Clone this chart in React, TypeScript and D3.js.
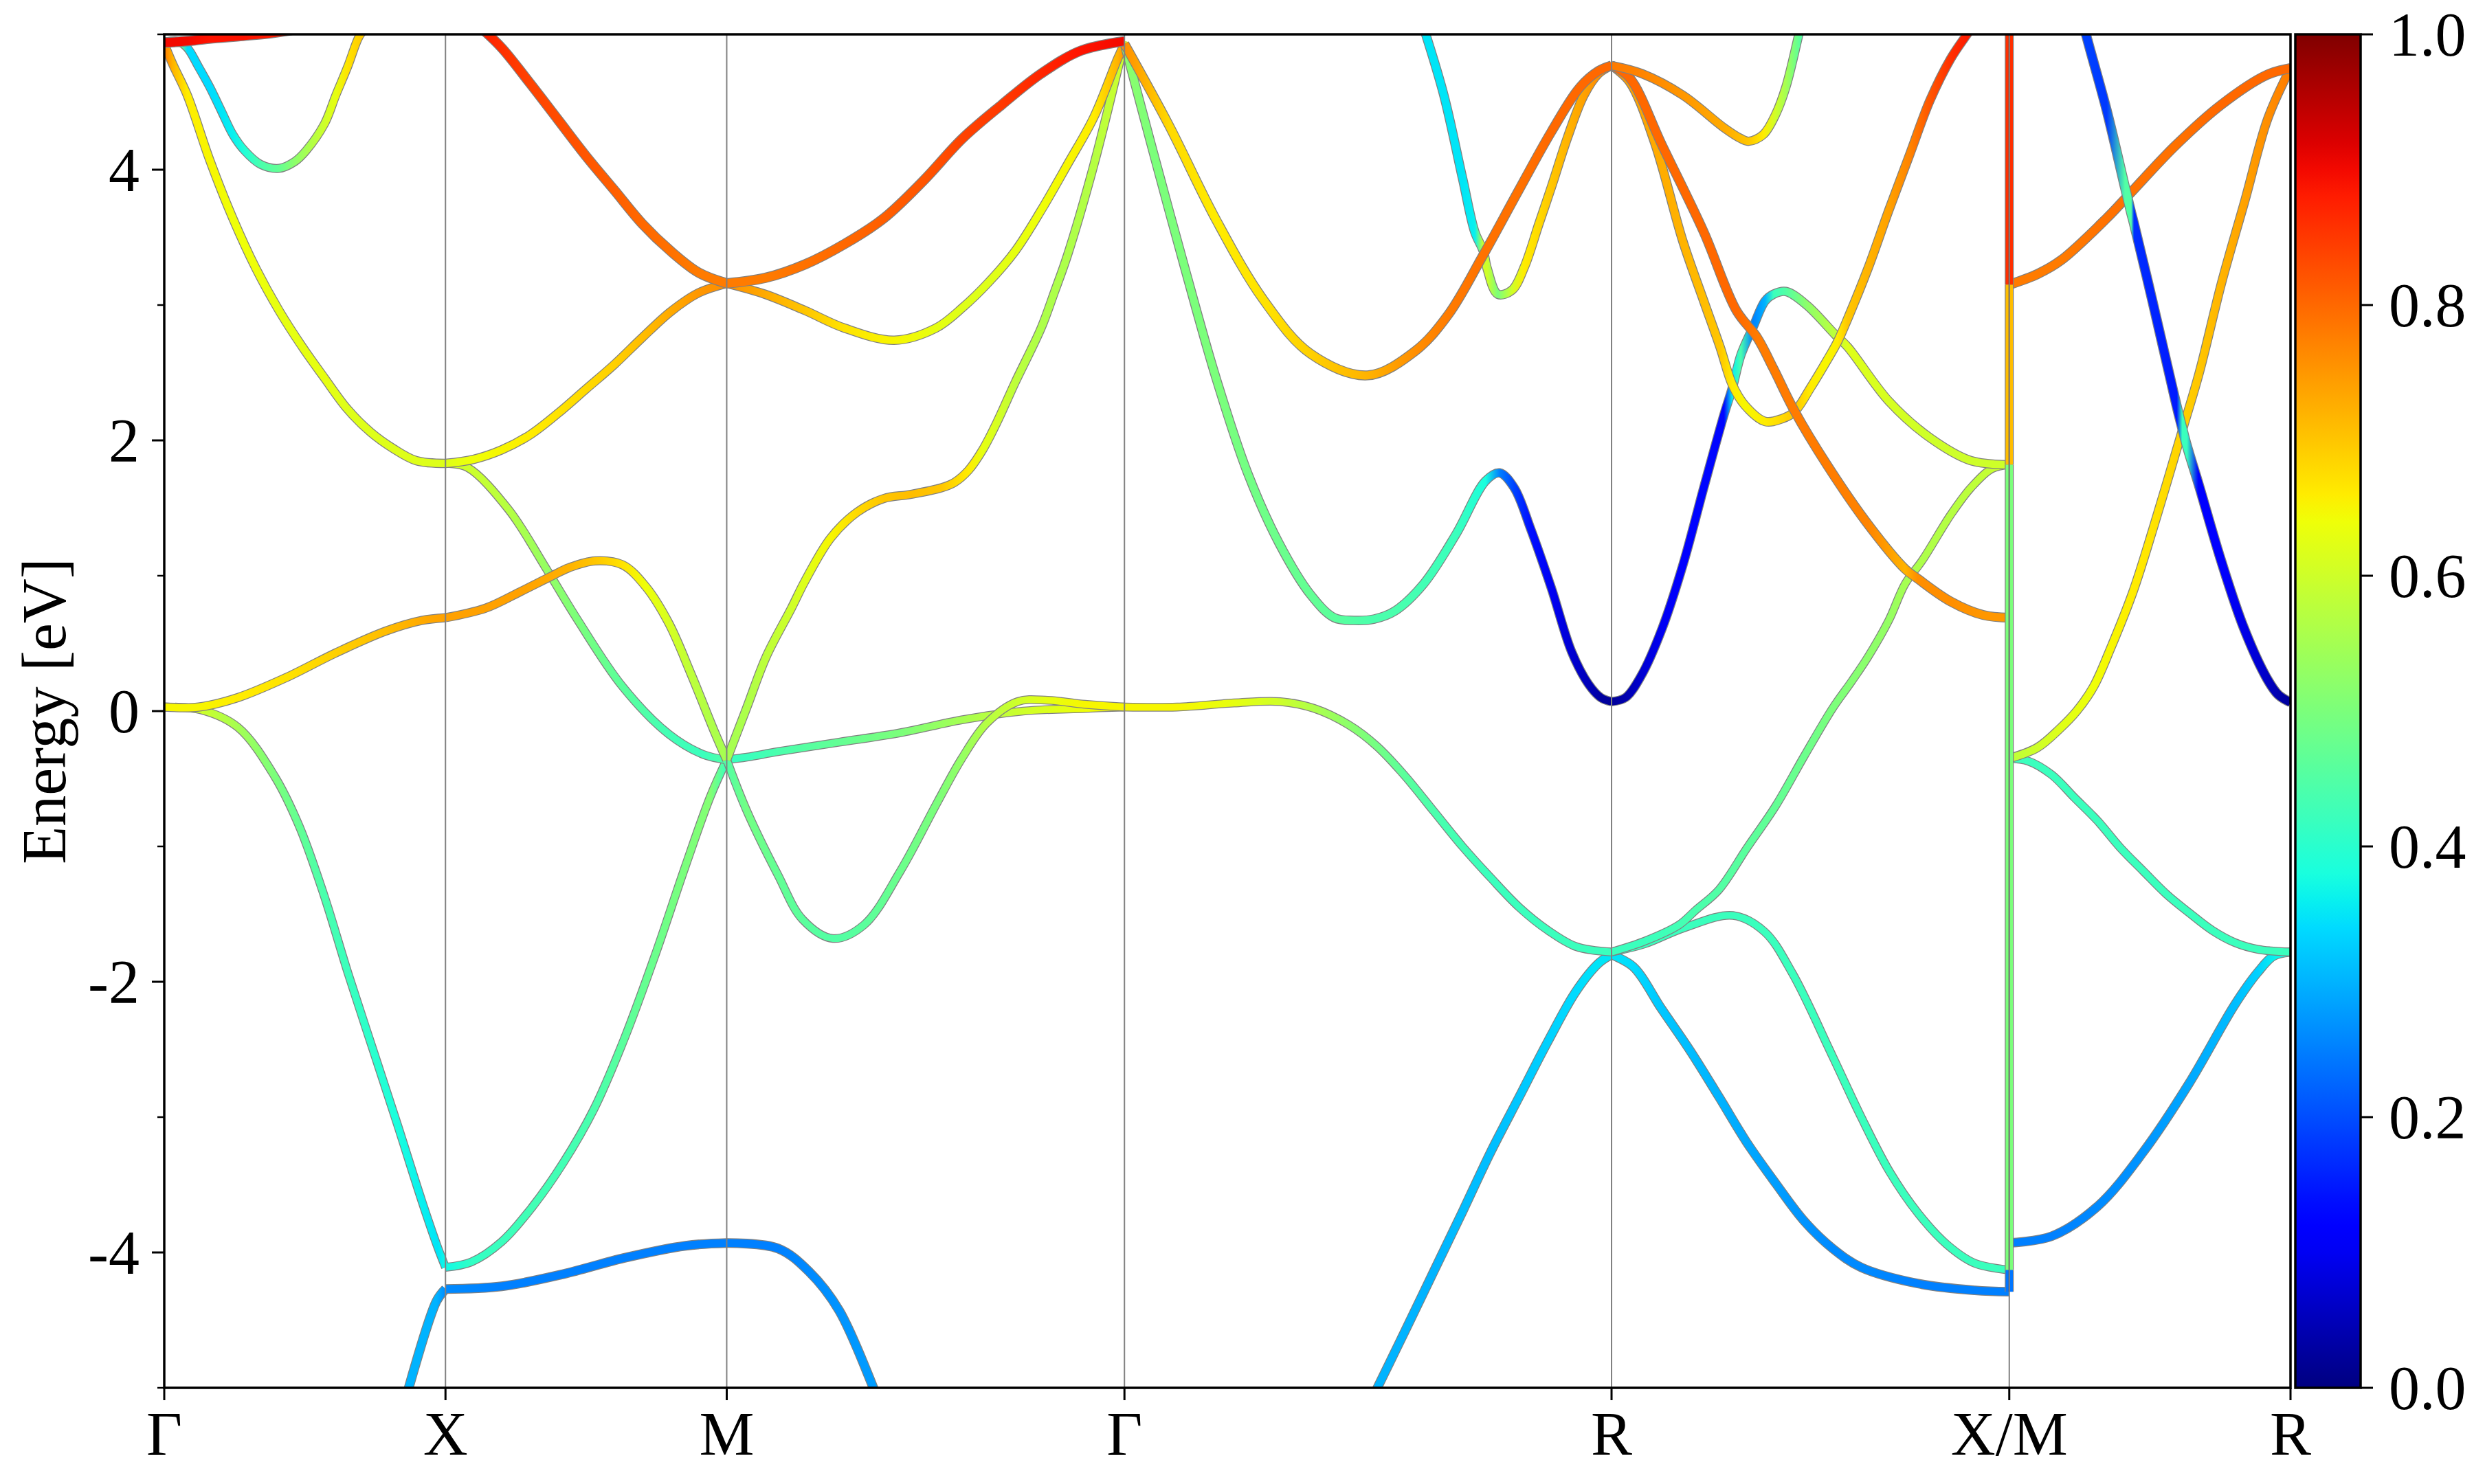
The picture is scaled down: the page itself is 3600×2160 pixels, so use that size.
import * as d3 from 'd3'

// [k, energy (eV), weight]
type Pt = [number, number, number]

const kTicks = [0, 0.5, 1.0, 1.7071, 2.5731, 3.2802, 3.7802]
const kLabels = ['Γ', 'X', 'M', 'Γ', 'R', 'X/M', 'R']
const energyTicks = [-4, -2, 0, 2, 4]
const energyMinorTicks = [-5, -3, -1, 1, 3, 5]
const cbarTicks = [0, 0.2, 0.4, 0.6, 0.8, 1.0]

// Γ-X-M-Γ-R-X part of the path
const bandRedGX: Pt[] = [[0, 4.94, 0.9], [0.04, 4.95, 0.9], [0.08, 4.97, 0.89], [0.14, 4.99, 0.89], [0.19, 5.01, 0.88], [0.25, 5.05, 0.88]]
const bandCyanGX: Pt[] = [[0, 4.94, 0.35], [0.024, 4.95, 0.58], [0.041, 4.9, 0.34], [0.061, 4.76, 0.34], [0.081, 4.61, 0.34], [0.102, 4.43, 0.35], [0.122, 4.26, 0.36], [0.143, 4.14, 0.39], [0.171, 4.04, 0.44], [0.204, 4.01, 0.47], [0.232, 4.06, 0.52], [0.252, 4.14, 0.55], [0.285, 4.34, 0.6], [0.305, 4.55, 0.63], [0.326, 4.76, 0.67], [0.346, 4.98, 0.69], [0.358, 5.05, 0.7]]
const bandRedXM: Pt[] = [[0.56, 5.06, 0.88], [0.6, 4.9, 0.86], [0.65, 4.64, 0.84], [0.7, 4.37, 0.83], [0.75, 4.1, 0.82], [0.8, 3.85, 0.81], [0.85, 3.6, 0.8], [0.9, 3.4, 0.79], [0.95, 3.24, 0.78], [1.0, 3.16, 0.78], [1.068, 3.2, 0.78], [1.139, 3.3, 0.79], [1.209, 3.45, 0.8], [1.279, 3.64, 0.81], [1.35, 3.92, 0.82], [1.419, 4.23, 0.84], [1.489, 4.48, 0.85], [1.559, 4.71, 0.87], [1.63, 4.88, 0.89], [1.7071, 4.95, 0.9]]
const bandYellowD: Pt[] = [[0, 4.93, 0.78], [0.015, 4.78, 0.72], [0.041, 4.55, 0.66], [0.081, 4.07, 0.65], [0.122, 3.64, 0.64], [0.163, 3.27, 0.64], [0.204, 2.96, 0.63], [0.244, 2.7, 0.63], [0.285, 2.46, 0.63], [0.326, 2.23, 0.62], [0.367, 2.06, 0.62], [0.407, 1.94, 0.62], [0.448, 1.85, 0.62], [0.5, 1.83, 0.62], [0.55, 1.86, 0.64], [0.6, 1.93, 0.65], [0.65, 2.04, 0.66], [0.7, 2.2, 0.67], [0.75, 2.38, 0.68], [0.8, 2.56, 0.69], [0.85, 2.76, 0.71], [0.9, 2.95, 0.73], [0.95, 3.09, 0.75], [1.0, 3.16, 0.76], [1.068, 3.08, 0.73], [1.139, 2.96, 0.7], [1.209, 2.83, 0.67], [1.298, 2.74, 0.65], [1.372, 2.83, 0.63], [1.419, 2.98, 0.62], [1.466, 3.17, 0.62], [1.513, 3.4, 0.63], [1.559, 3.7, 0.64], [1.606, 4.04, 0.65], [1.653, 4.39, 0.66], [1.695, 4.82, 0.72], [1.7071, 4.93, 0.76]]
const bandOrangeC: Pt[] = [[0, 0.03, 0.65], [0.061, 0.03, 0.65], [0.131, 0.1, 0.66], [0.218, 0.25, 0.67], [0.305, 0.43, 0.69], [0.393, 0.59, 0.71], [0.458, 0.67, 0.73], [0.5, 0.69, 0.74], [0.571, 0.76, 0.74], [0.632, 0.88, 0.74], [0.685, 0.99, 0.73], [0.72, 1.06, 0.72], [0.766, 1.11, 0.7], [0.815, 1.08, 0.67], [0.856, 0.92, 0.64], [0.897, 0.65, 0.61], [0.937, 0.27, 0.58], [0.978, -0.15, 0.56], [1.0, -0.36, 0.55], [1.036, 0.03, 0.56], [1.07, 0.4, 0.58], [1.115, 0.76, 0.6], [1.139, 0.96, 0.62], [1.185, 1.28, 0.65], [1.232, 1.47, 0.68], [1.279, 1.57, 0.7], [1.326, 1.6, 0.71], [1.382, 1.65, 0.7], [1.405, 1.69, 0.68], [1.43, 1.78, 0.66], [1.455, 1.93, 0.63], [1.48, 2.13, 0.61], [1.513, 2.43, 0.58], [1.559, 2.83, 0.56], [1.583, 3.1, 0.56], [1.606, 3.37, 0.56], [1.653, 4.04, 0.57], [1.7071, 4.95, 0.6]]
const bandGreenE: Pt[] = [[0.5, 1.83, 0.6], [0.539, 1.8, 0.6], [0.612, 1.49, 0.57], [0.681, 1.04, 0.53], [0.734, 0.68, 0.5], [0.815, 0.18, 0.46], [0.897, -0.17, 0.43], [0.958, -0.32, 0.42], [1.0, -0.36, 0.45], [1.036, -0.74, 0.49], [1.091, -1.21, 0.47], [1.135, -1.54, 0.46], [1.189, -1.68, 0.45], [1.244, -1.58, 0.46], [1.309, -1.18, 0.48], [1.375, -0.67, 0.5], [1.418, -0.35, 0.53], [1.462, -0.09, 0.57], [1.517, 0.07, 0.6], [1.571, 0.08, 0.63], [1.637, 0.05, 0.65], [1.7071, 0.03, 0.65], [1.801, 0.03, 0.65], [1.902, 0.06, 0.63], [1.984, 0.07, 0.6], [2.044, 0.02, 0.56], [2.105, -0.1, 0.52], [2.156, -0.26, 0.49], [2.206, -0.48, 0.46], [2.257, -0.74, 0.44], [2.308, -1.0, 0.43], [2.358, -1.23, 0.42], [2.409, -1.45, 0.42], [2.46, -1.62, 0.42], [2.51, -1.74, 0.42], [2.5731, -1.78, 0.42], [2.632, -1.72, 0.42], [2.703, -1.6, 0.42], [2.789, -1.51, 0.42], [2.845, -1.63, 0.42], [2.895, -1.94, 0.42], [2.966, -2.55, 0.42], [3.017, -3.0, 0.42], [3.067, -3.4, 0.42], [3.118, -3.71, 0.42], [3.169, -3.94, 0.42], [3.219, -4.08, 0.42], [3.2802, -4.13, 0.42]]
const bandCyanB: Pt[] = [[0, 0.03, 0.62], [0.065, 0.01, 0.6], [0.131, -0.12, 0.55], [0.196, -0.48, 0.5], [0.24, -0.85, 0.47], [0.284, -1.36, 0.44], [0.327, -1.94, 0.42], [0.371, -2.5, 0.4], [0.415, -3.06, 0.38], [0.458, -3.62, 0.36], [0.486, -3.96, 0.35], [0.5, -4.11, 0.37], [0.546, -4.07, 0.41], [0.6, -3.92, 0.42], [0.655, -3.66, 0.43], [0.709, -3.34, 0.43], [0.764, -2.94, 0.44], [0.818, -2.42, 0.46], [0.873, -1.8, 0.48], [0.927, -1.14, 0.5], [0.971, -0.63, 0.51], [1.0, -0.36, 0.42], [1.036, -0.34, 0.42], [1.091, -0.3, 0.44], [1.2, -0.23, 0.47], [1.309, -0.16, 0.5], [1.418, -0.065, 0.55], [1.527, 0.0, 0.6], [1.637, 0.02, 0.64], [1.7071, 0.03, 0.65]]
const bandBlueA: Pt[] = [[0.428, -5.1, 0.3], [0.484, -4.36, 0.3], [0.5, -4.27, 0.26], [0.6, -4.25, 0.25], [0.709, -4.16, 0.25], [0.818, -4.04, 0.25], [0.927, -3.95, 0.25], [1.0, -3.93, 0.25], [1.091, -3.97, 0.25], [1.146, -4.14, 0.26], [1.2, -4.43, 0.27], [1.27, -5.1, 0.28]]
const bandBlueA2: Pt[] = [[2.145, -5.1, 0.3], [2.206, -4.58, 0.3], [2.257, -4.14, 0.3], [2.308, -3.7, 0.31], [2.358, -3.26, 0.31], [2.409, -2.85, 0.32], [2.46, -2.44, 0.33], [2.51, -2.07, 0.34], [2.551, -1.86, 0.35], [2.5731, -1.8, 0.35], [2.612, -1.89, 0.34], [2.662, -2.2, 0.32], [2.713, -2.51, 0.31], [2.764, -2.85, 0.3], [2.814, -3.19, 0.29], [2.865, -3.49, 0.28], [2.916, -3.77, 0.27], [2.966, -3.97, 0.26], [3.017, -4.11, 0.26], [3.118, -4.23, 0.25], [3.219, -4.28, 0.25], [3.2802, -4.29, 0.25]]
const bandGreenRX: Pt[] = [[2.5731, -1.78, 0.42], [2.632, -1.7, 0.42], [2.693, -1.58, 0.43], [2.723, -1.47, 0.44], [2.764, -1.32, 0.45], [2.814, -1.01, 0.46], [2.865, -0.7, 0.47], [2.916, -0.33, 0.48], [2.966, 0.02, 0.5], [3.0, 0.22, 0.51], [3.029, 0.4, 0.52], [3.066, 0.67, 0.53], [3.095, 0.94, 0.55], [3.125, 1.11, 0.56], [3.176, 1.45, 0.57], [3.212, 1.65, 0.58], [3.249, 1.79, 0.59], [3.2802, 1.82, 0.6]]
const bandG1: Pt[] = [[1.7071, 4.93, 0.52], [1.757, 4.15, 0.5], [1.814, 3.28, 0.5], [1.87, 2.46, 0.5], [1.926, 1.76, 0.49], [1.982, 1.24, 0.48], [2.038, 0.86, 0.47], [2.08, 0.69, 0.46], [2.115, 0.67, 0.45], [2.151, 0.68, 0.44], [2.188, 0.74, 0.44], [2.239, 0.94, 0.43], [2.297, 1.31, 0.42], [2.349, 1.7, 0.38], [2.374, 1.76, 0.25], [2.4, 1.65, 0.19], [2.429, 1.35, 0.14], [2.466, 0.91, 0.1], [2.502, 0.44, 0.07], [2.532, 0.2, 0.05], [2.554, 0.1, 0.03], [2.5731, 0.07, 0.02], [2.598, 0.1, 0.04], [2.627, 0.27, 0.07], [2.663, 0.61, 0.1], [2.7, 1.08, 0.12], [2.737, 1.65, 0.13], [2.773, 2.19, 0.13], [2.788, 2.39, 0.36], [2.803, 2.63, 0.44], [2.824, 2.83, 0.25], [2.846, 3.03, 0.3], [2.861, 3.08, 0.42], [2.883, 3.1, 0.45], [2.92, 3.0, 0.52], [2.971, 2.78, 0.58], [2.993, 2.69, 0.62], [3.066, 2.29, 0.61], [3.139, 2.02, 0.6], [3.212, 1.85, 0.6], [3.2802, 1.82, 0.6]]
const bandG2: Pt[] = [[1.7071, 4.93, 0.76], [1.786, 4.33, 0.68], [1.87, 3.63, 0.66], [1.954, 3.04, 0.67], [2.038, 2.64, 0.69], [2.139, 2.48, 0.72], [2.224, 2.66, 0.76], [2.283, 2.93, 0.78], [2.345, 3.37, 0.79], [2.407, 3.84, 0.79], [2.466, 4.28, 0.8], [2.517, 4.61, 0.8], [2.55, 4.73, 0.8], [2.5731, 4.77, 0.8], [2.605, 4.68, 0.8], [2.663, 4.18, 0.8], [2.737, 3.54, 0.8], [2.795, 2.96, 0.8], [2.832, 2.76, 0.78], [2.861, 2.53, 0.78], [2.898, 2.22, 0.78], [2.956, 1.82, 0.78], [3.029, 1.38, 0.77], [3.095, 1.05, 0.72], [3.117, 0.98, 0.76], [3.176, 0.81, 0.76], [3.234, 0.71, 0.75], [3.2802, 0.69, 0.75]]
const bandG3: Pt[] = [[2.239, 5.05, 0.35], [2.275, 4.55, 0.35], [2.308, 3.94, 0.35], [2.33, 3.54, 0.36], [2.345, 3.4, 0.6], [2.352, 3.27, 0.6], [2.371, 3.08, 0.5], [2.396, 3.11, 0.6], [2.418, 3.28, 0.66], [2.444, 3.6, 0.68], [2.466, 3.87, 0.7], [2.495, 4.24, 0.72], [2.524, 4.55, 0.74], [2.55, 4.71, 0.76], [2.5731, 4.77, 0.76], [2.605, 4.65, 0.74], [2.649, 4.21, 0.73], [2.7, 3.47, 0.72], [2.737, 3.03, 0.71], [2.766, 2.69, 0.7], [2.788, 2.41, 0.66], [2.81, 2.26, 0.65], [2.846, 2.14, 0.66], [2.876, 2.16, 0.68], [2.898, 2.21, 0.7], [2.927, 2.39, 0.66], [2.956, 2.59, 0.65], [2.975, 2.73, 0.66], [2.993, 2.9, 0.7], [3.029, 3.27, 0.72], [3.066, 3.7, 0.74], [3.103, 4.11, 0.77], [3.139, 4.51, 0.82], [3.176, 4.82, 0.86], [3.205, 5.0, 0.88], [3.23, 5.15, 0.88]]
const bandG4: Pt[] = [[2.5731, 4.77, 0.78], [2.627, 4.71, 0.77], [2.7, 4.55, 0.75], [2.773, 4.31, 0.73], [2.803, 4.23, 0.71], [2.817, 4.21, 0.7], [2.843, 4.26, 0.66], [2.865, 4.41, 0.6], [2.883, 4.61, 0.55], [2.905, 4.98, 0.47], [2.912, 5.1, 0.45]]

// M-R part of the path
const bandMRBlueLow: Pt[] = [[3.2802, -3.93, 0.25], [3.3555, -3.88, 0.25], [3.437, -3.66, 0.26], [3.518, -3.26, 0.27], [3.6, -2.75, 0.29], [3.681, -2.17, 0.31], [3.722, -1.93, 0.33], [3.75, -1.81, 0.36], [3.7802, -1.78, 0.38]]
const bandMRCyan: Pt[] = [[3.2802, -0.35, 0.42], [3.3143, -0.37, 0.42], [3.3555, -0.47, 0.42], [3.3962, -0.64, 0.42], [3.437, -0.81, 0.42], [3.4777, -1.01, 0.42], [3.518, -1.18, 0.42], [3.559, -1.35, 0.42], [3.6, -1.49, 0.42], [3.641, -1.62, 0.42], [3.681, -1.71, 0.42], [3.722, -1.76, 0.42], [3.7802, -1.78, 0.42]]
const bandMRYellow: Pt[] = [[3.2802, -0.35, 0.58], [3.33, -0.27, 0.6], [3.37, -0.13, 0.62], [3.4, 0.0, 0.63], [3.43, 0.18, 0.64], [3.46, 0.46, 0.65], [3.5, 0.88, 0.66], [3.536, 1.35, 0.67], [3.589, 2.09, 0.69], [3.618, 2.5, 0.7], [3.658, 3.17, 0.72], [3.699, 3.77, 0.74], [3.74, 4.38, 0.76], [3.7802, 4.75, 0.78]]
const bandMROrange: Pt[] = [[3.2802, 3.15, 0.78], [3.331, 3.23, 0.78], [3.372, 3.33, 0.78], [3.453, 3.64, 0.79], [3.494, 3.82, 0.79], [3.576, 4.18, 0.79], [3.657, 4.48, 0.8], [3.738, 4.7, 0.8], [3.7802, 4.75, 0.8]]
const bandMRBlue: Pt[] = [[3.405, 5.2, 0.19], [3.4166, 5.0, 0.19], [3.4533, 4.44, 0.18], [3.4859, 3.87, 0.45], [3.497, 3.68, 0.45], [3.502, 3.6, 0.17], [3.5347, 3.03, 0.16], [3.578, 2.25, 0.15], [3.5877, 2.09, 0.42], [3.596, 1.96, 0.42], [3.6162, 1.685, 0.12], [3.6569, 1.11, 0.11], [3.6976, 0.61, 0.09], [3.7384, 0.24, 0.06], [3.7587, 0.12, 0.04], [3.7802, 0.065, 0.02]]

// vertical joins at the X/M break: [from, to, weight]
const xmJumps: [number, number, number][] = [[3.15, 5.1, 0.86], [1.82, 3.15, 0.71], [-4.13, 1.82, 0.5], [-4.29, -4.13, 0.24]]

const bands: { id: string; pts: Pt[] }[] = [
  { id: 'blueA', pts: bandBlueA },
  { id: 'blueA2', pts: bandBlueA2 },
  { id: 'cyanB', pts: bandCyanB },
  { id: 'greenE', pts: bandGreenE },
  { id: 'greenRX', pts: bandGreenRX },
  { id: 'orangeC', pts: bandOrangeC },
  { id: 'yellowD', pts: bandYellowD },
  { id: 'g1', pts: bandG1 },
  { id: 'g3', pts: bandG3 },
  { id: 'g2', pts: bandG2 },
  { id: 'g4', pts: bandG4 },
  { id: 'cyanGX', pts: bandCyanGX },
  { id: 'redXM', pts: bandRedXM },
  { id: 'redGX', pts: bandRedGX },
  { id: 'mrBlueLow', pts: bandMRBlueLow },
  { id: 'mrCyan', pts: bandMRCyan },
  { id: 'mrYellow', pts: bandMRYellow },
  { id: 'mrOrange', pts: bandMROrange },
  { id: 'mrBlue', pts: bandMRBlue },
]

// matplotlib 'jet'
const jetR = d3.scaleLinear().domain([0, 0.35, 0.66, 0.89, 1]).range([0, 0, 1, 1, 0.5]).clamp(true)
const jetG = d3.scaleLinear().domain([0, 0.125, 0.375, 0.64, 0.91, 1]).range([0, 0, 1, 1, 0, 0]).clamp(true)
const jetB = d3.scaleLinear().domain([0, 0.11, 0.34, 0.65, 1]).range([0.5, 1, 1, 0, 0]).clamp(true)
const jet = (v: number) => d3.rgb(jetR(v) * 255, jetG(v) * 255, jetB(v) * 255).formatHex()

// break a band at the high-symmetry points so kinks stay sharp
function splitAtTicks(pts: Pt[]): Pt[][] {
  const out: Pt[][] = []
  let cur: Pt[] = []
  pts.forEach((p, i) => {
    cur.push(p)
    const onTick = kTicks.some(t => Math.abs(t - p[0]) < 1e-3)
    if (onTick && i > 0 && i < pts.length - 1) {
      out.push(cur)
      cur = [p]
    }
  })
  if (cur.length > 1) out.push(cur)
  return out
}

const left = 239, right = 3333, top = 50, bottom = 2020
const cbLeft = 3340, cbRight = 3435

export default function App() {
  const x = d3.scaleLinear().domain([0, kTicks[kTicks.length - 1]]).range([left, right])
  const y = d3.scaleLinear().domain([-5, 5]).range([bottom, top])
  const cb = d3.scaleLinear().domain([0, 1]).range([bottom, top])
  const line = d3.line<Pt>().x(d => x(d[0])).y(d => y(d[1])).curve(d3.curveCatmullRom.alpha(0.5))
  const font = "'Liberation Serif', 'Times New Roman', serif"

  return (
    <svg width={3600} height={2160} style={{ position: 'absolute', left: 0, top: 0, background: '#fff' }} fontFamily={font}>
      <defs>
        <clipPath id="plot-area">
          <rect x={left} y={top} width={right - left} height={bottom - top} />
        </clipPath>
        {bands.map(b => {
          const x1 = x(b.pts[0][0])
          const x2 = x(b.pts[b.pts.length - 1][0])
          return (
            <linearGradient key={b.id} id={`grad-${b.id}`} gradientUnits="userSpaceOnUse" x1={x1} x2={x2} y1={0} y2={0}>
              {b.pts.map((p, i) => (
                <stop key={i} offset={(x(p[0]) - x1) / (x2 - x1)} stopColor={jet(p[2])} />
              ))}
            </linearGradient>
          )
        })}
        <linearGradient id="cbar" x1={0} y1={1} x2={0} y2={0}>
          {d3.range(0, 1.0001, 0.02).map(v => (
            <stop key={v} offset={v} stopColor={jet(v)} />
          ))}
        </linearGradient>
      </defs>

      <rect x={0} y={0} width={3600} height={2160} fill="#fff" />

      <g clipPath="url(#plot-area)">
        {bands.map(b => {
          const lw = 9.5 + 9 * d3.mean(b.pts, p => Math.abs(p[2] - 0.5))!
          const parts = splitAtTicks(b.pts)
          return (
            <g key={b.id}>
              {parts.map((seg, i) => (
                <path key={`e${i}`} d={line(seg) ?? ''} fill="none" stroke="#808080" strokeWidth={lw + 2.5} strokeLinejoin="round" />
              ))}
              {parts.map((seg, i) => (
                <path key={`c${i}`} d={line(seg) ?? ''} fill="none" stroke={`url(#grad-${b.id})`} strokeWidth={lw} strokeLinejoin="round" />
              ))}
            </g>
          )
        })}
        {xmJumps.map(([a, b, w], i) => (
          <g key={i}>
            <line x1={x(kTicks[5])} x2={x(kTicks[5])} y1={y(a)} y2={y(b)} stroke="#808080" strokeWidth={13} />
            <line x1={x(kTicks[5])} x2={x(kTicks[5])} y1={y(a)} y2={y(b)} stroke={jet(w)} strokeWidth={10.5} />
            <line x1={x(kTicks[5])} x2={x(kTicks[5])} y1={y(a)} y2={y(b)} stroke="rgba(0,0,0,0.3)" strokeWidth={2.5} />
          </g>
        ))}
      </g>

      {/* high-symmetry lines */}
      {kTicks.slice(1, -1).map((k, i) => (
        <line key={i} x1={x(k)} x2={x(k)} y1={top} y2={bottom} stroke="#808080" strokeWidth={2} />
      ))}

      {/* frame */}
      <rect x={left} y={top} width={right - left} height={bottom - top} fill="none" stroke="#000" strokeWidth={3.5} />

      {/* x ticks */}
      {kTicks.map((k, i) => (
        <g key={i}>
          <line x1={x(k)} x2={x(k)} y1={bottom} y2={bottom + 18} stroke="#000" strokeWidth={3} />
          <text x={x(k)} y={2118} fontSize={90} textAnchor="middle">{kLabels[i]}</text>
        </g>
      ))}

      {/* y ticks */}
      {energyTicks.map(e => (
        <g key={e}>
          <line x1={left - 18} x2={left} y1={y(e)} y2={y(e)} stroke="#000" strokeWidth={3} />
          <text x={203} y={y(e)} dy="0.34em" fontSize={90} textAnchor="end">{e}</text>
        </g>
      ))}
      {energyMinorTicks.map(e => (
        <line key={e} x1={left - 10} x2={left} y1={y(e)} y2={y(e)} stroke="#000" strokeWidth={2.5} />
      ))}
      <text transform={`translate(95,${y(0)}) rotate(-90)`} fontSize={90} textAnchor="middle">Energy [eV]</text>

      {/* colorbar */}
      <rect x={cbLeft} y={top} width={cbRight - cbLeft} height={bottom - top} fill="url(#cbar)" stroke="#000" strokeWidth={3.5} />
      {cbarTicks.map(v => (
        <g key={v}>
          <line x1={cbRight} x2={cbRight + 18} y1={cb(v)} y2={cb(v)} stroke="#000" strokeWidth={3} />
          <text x={3476} y={cb(v)} dy="0.34em" fontSize={90}>{v.toFixed(1)}</text>
        </g>
      ))}
    </svg>
  )
}
